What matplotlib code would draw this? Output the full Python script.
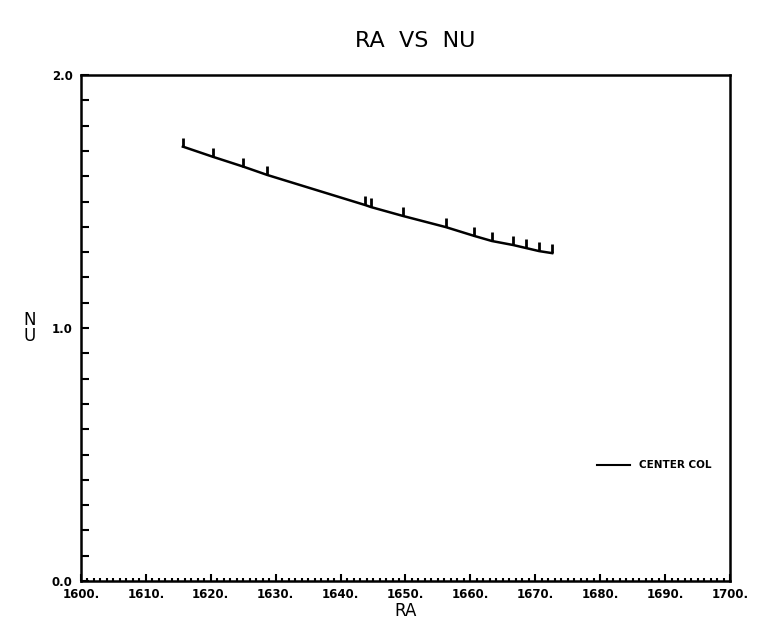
import matplotlib
matplotlib.use("Agg")
import matplotlib.pyplot as plt
from matplotlib.path import Path
from matplotlib.ticker import MultipleLocator, FuncFormatter

# valeurs
ra = [1615.7, 1620.3, 1625.0, 1628.7, 1643.8, 1644.7, 1649.6, 1656.2,
      1660.6, 1663.3, 1666.6, 1668.6, 1670.6, 1672.6]
nu = [1.717, 1.677, 1.638, 1.605, 1.486, 1.478, 1.443, 1.399,
      1.364, 1.344, 1.328, 1.316, 1.304, 1.296]
serie = "CENTER COL"

fig = plt.figure(figsize=(7.69, 6.31), dpi=100)
ax = fig.add_axes([0.1053, 0.0792, 0.8440, 0.8019])

# petit trait vertical au-dessus de chaque point
tick_mark = Path([(0, 0), (0, 1)], [Path.MOVETO, Path.LINETO])
ax.plot(ra, nu, color="black", lw=1.8, marker=tick_mark, markersize=13,
        markeredgewidth=2, label=serie)

ax.set_xlim(1600, 1700)
ax.set_ylim(0, 2.0)

ax.xaxis.set_major_locator(MultipleLocator(10))
ax.xaxis.set_minor_locator(MultipleLocator(1))
ax.yaxis.set_major_locator(MultipleLocator(1.0))
ax.yaxis.set_minor_locator(MultipleLocator(0.1))
ax.xaxis.set_major_formatter(FuncFormatter(lambda v, p: "%d." % v))
ax.yaxis.set_major_formatter(FuncFormatter(lambda v, p: "%.1f" % v))

ax.tick_params(axis="x", which="major", direction="in", length=5, width=1.5,
               labelsize=8.5, pad=5)
ax.tick_params(axis="x", which="minor", direction="in", length=2, width=1.5)
ax.tick_params(axis="y", which="major", direction="in", length=6, width=1.5,
               labelsize=8.5, pad=6)
ax.tick_params(axis="y", which="minor", direction="in", length=6, width=1.5)
for lab in ax.get_xticklabels() + ax.get_yticklabels():
    lab.set_fontweight("bold")

for s in ax.spines.values():
    s.set_linewidth(1.8)

ax.set_xlabel("RA", fontsize=12, labelpad=1)
ax.set_ylabel("N\nU", fontsize=12, rotation=0, labelpad=16, va="center",
              linespacing=0.9)
fig.text(0.54, 0.935, "RA  VS  NU", fontsize=16, ha="center", va="center")

leg = ax.legend(loc="lower left", bbox_to_anchor=(0.78, 0.2), frameon=False,
                handlelength=3.2, handletextpad=0.9,
                prop={"size": 7.5, "weight": "bold"})
for h in leg.legend_handles:
    h.set_marker("")
    h.set_linewidth(1.5)

plt.savefig("out.png", dpi=100)
plt.close()
